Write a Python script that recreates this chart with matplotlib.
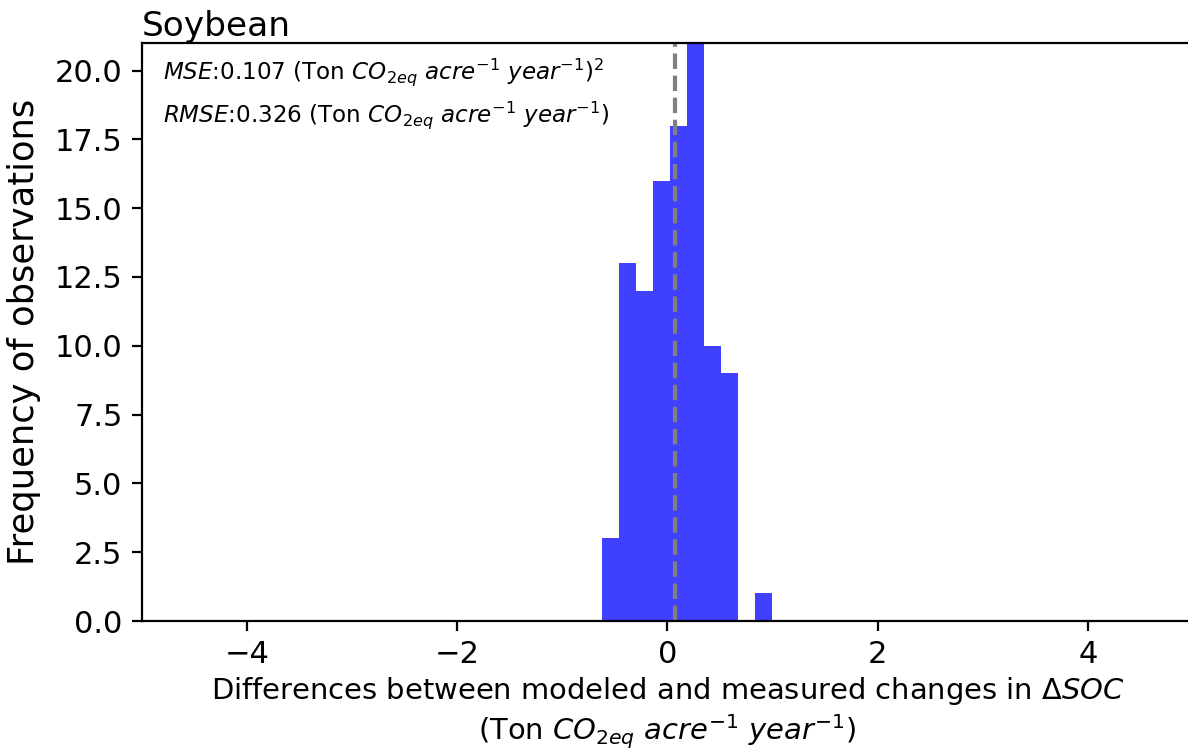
import numpy as np
from matplotlib import pyplot as plt

# histogram of (modeled - measured) delta SOC, soybean
bin_start = -0.626
bin_width = 0.162
counts = [3, 13, 12, 16, 18, 22, 10, 9, 0, 1]
mean_diff = 0.073
mse = 0.107
rmse = 0.326

edges = bin_start + bin_width * np.arange(len(counts) + 1)

fig = plt.figure(figsize=(5.94, 3.76), dpi=200)
# right spine falls just outside the saved figure, as in the original
ax = fig.add_axes([0.1195, 0.1742, 0.8847, 0.7686])

ax.hist(edges[:-1], bins=edges, weights=counts, color='blue', alpha=0.75)
ax.axvline(mean_diff, color='gray', linestyle='--', linewidth=1.5)

ax.set_xlim(-5, 5)
ax.set_ylim(0, 21)
ax.tick_params(labelsize=11)

ax.set_title('Soybean', loc='left', fontsize=12.4, pad=2)
ax.set_ylabel('Frequency of observations', fontsize=12.7, labelpad=5)
ax.set_xlabel(r'Differences between modeled and measured changes in $\Delta SOC$' + '\n'
              + r'(Ton $CO_{2eq}$ $acre^{-1}$ $year^{-1}$)', fontsize=10.45, labelpad=2)

ax.text(0.02, 0.95, r'$MSE$:%.3f (Ton $CO_{2eq}$ $acre^{-1}$ $year^{-1}$)$^2$' % mse,
        transform=ax.transAxes, fontsize=8.3, va='center')
ax.text(0.02, 0.875, r'$RMSE$:%.3f (Ton $CO_{2eq}$ $acre^{-1}$ $year^{-1}$)' % rmse,
        transform=ax.transAxes, fontsize=8.3, va='center')

fig.savefig('out.png', dpi=200)
